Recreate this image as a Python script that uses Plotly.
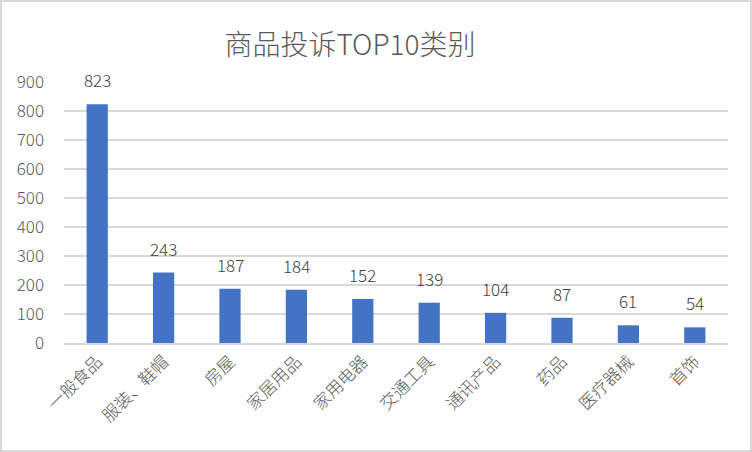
import plotly.graph_objects as go

categories = ["一般食品", "服装、鞋帽", "房屋", "家居用品", "家用电器", "交通工具", "通讯产品", "药品", "医疗器械", "首饰"]
values = [823, 243, 187, 184, 152, 139, 104, 87, 61, 54]
y_ticks = [0, 100, 200, 300, 400, 500, 600, 700, 800, 900]

FONT = "Noto Sans CJK SC, Noto Sans, sans-serif"
W, H = 752, 452
L, R, T, B = 64, 24, 82, 109
pw, ph = W - L - R, H - T - B

fig = go.Figure(go.Bar(
    x=categories, y=values,
    marker=dict(color="#4472C4", line=dict(width=0)),
    width=0.32,
))

for c, v in zip(categories, values):
    fig.add_annotation(x=c, y=v, text=str(v), showarrow=False, yanchor="bottom",
                       yshift=10, font=dict(family=FONT, size=17, color="#404040", weight=300))

fig.add_shape(type="rect", xref="paper", yref="paper",
              x0=(1 - L) / pw, x1=(W - 1 - L) / pw,
              y0=(T + ph - (H - 1)) / ph, y1=(T + ph - 1) / ph,
              line=dict(color="#D9D9D9", width=2), layer="below")

fig.update_layout(
    width=W, height=H,
    margin=dict(l=L, r=R, t=T, b=B, autoexpand=False),
    paper_bgcolor="white", plot_bgcolor="white",
    showlegend=False,
    title=dict(text="商品投诉TOP10类别", x=350 / W, xanchor="center", y=1 - 45 / H, yanchor="middle",
               font=dict(family=FONT, size=28, color="#595959", weight=300)),
    font=dict(family=FONT, color="#595959"),
    bargap=0.68,
)
fig.update_xaxes(tickangle=-45, tickfont=dict(family=FONT, size=17, color="#595959", weight=300),
                 showline=True, linecolor="#D9D9D9", linewidth=2, ticks="", showgrid=False)
fig.update_yaxes(range=[0, 900], tickvals=y_ticks, showgrid=True, gridcolor="#D9D9D9", gridwidth=1.5,
                 zeroline=False, showline=False, ticks="", ticklabelstandoff=19,
                 tickfont=dict(family=FONT, size=17, color="#595959", weight=300))

fig.write_html("out.html", config={"displayModeBar": False},
               post_script="document.body.style.margin='0';")
